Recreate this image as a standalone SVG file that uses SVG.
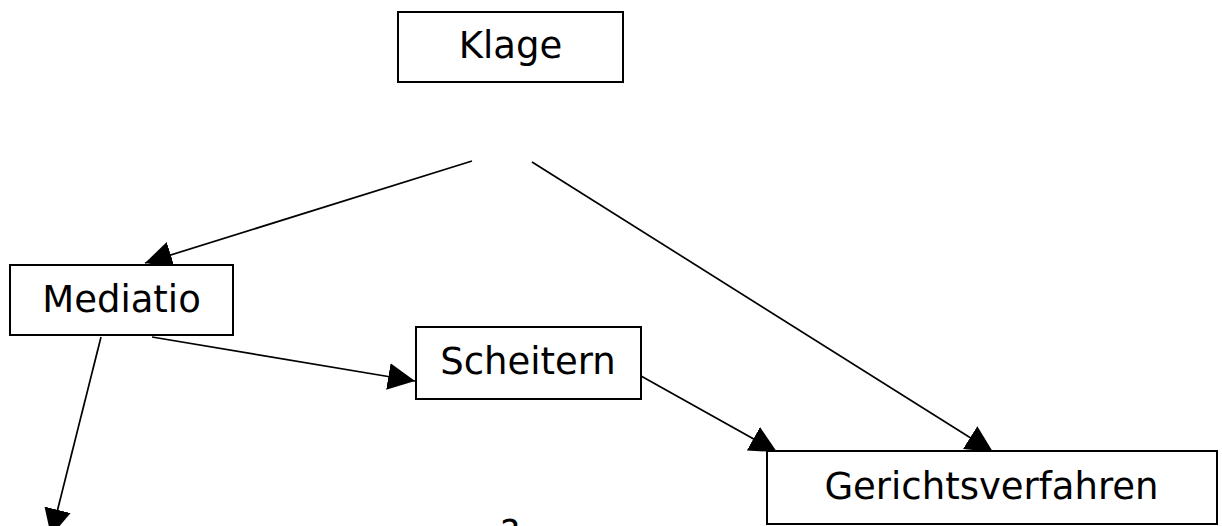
<svg xmlns="http://www.w3.org/2000/svg" width="1222" height="526" viewBox="0 0 1222 526">
  <style>
    .box { fill: #ffffff; stroke: #000000; stroke-width: 2; }
    .lbl { font-family: "DejaVu Sans", "Liberation Sans", sans-serif; font-size: 37px; fill: #000000; text-anchor: middle; }
    .edge { stroke: #000000; stroke-width: 1.7; fill: none; marker-end: url(#arrow); }
  </style>
  <defs>
    <marker id="arrow" markerUnits="userSpaceOnUse" markerWidth="27" markerHeight="27" refX="27" refY="13.5" orient="auto" viewBox="0 0 27 27">
      <path d="M0,0 L27,13.5 L0,27 z" fill="#000000"/>
    </marker>
  </defs>
  <rect width="1222" height="526" fill="#ffffff"/>

  <g id="connectors">
    <line class="edge" x1="472" y1="161" x2="145" y2="263"/>
    <line class="edge" x1="532" y1="162" x2="993" y2="452"/>
    <line class="edge" x1="152" y1="337" x2="415" y2="381"/>
    <line class="edge" x1="641" y1="376" x2="777" y2="452"/>
    <line class="edge" x1="101" y1="337" x2="51" y2="536"/>
  </g>

  <g id="klage">
    <rect class="box" x="398" y="12" width="225" height="70"/>
    <text class="lbl" x="510.5" y="58">Klage</text>
  </g>
  <g id="mediatio">
    <rect class="box" x="10" y="265" width="223" height="70"/>
    <text class="lbl" x="121.5" y="312">Mediatio</text>
  </g>
  <g id="scheitern">
    <rect class="box" x="416" y="327" width="225" height="72"/>
    <text class="lbl" x="528" y="374">Scheitern</text>
  </g>
  <g id="gerichtsverfahren">
    <rect class="box" x="767" y="451" width="450" height="73"/>
    <text class="lbl" x="991.5" y="499">Gerichtsverfahren</text>
  </g>
  <g id="question">
    <text class="lbl" x="510" y="546">?</text>
  </g>
</svg>
